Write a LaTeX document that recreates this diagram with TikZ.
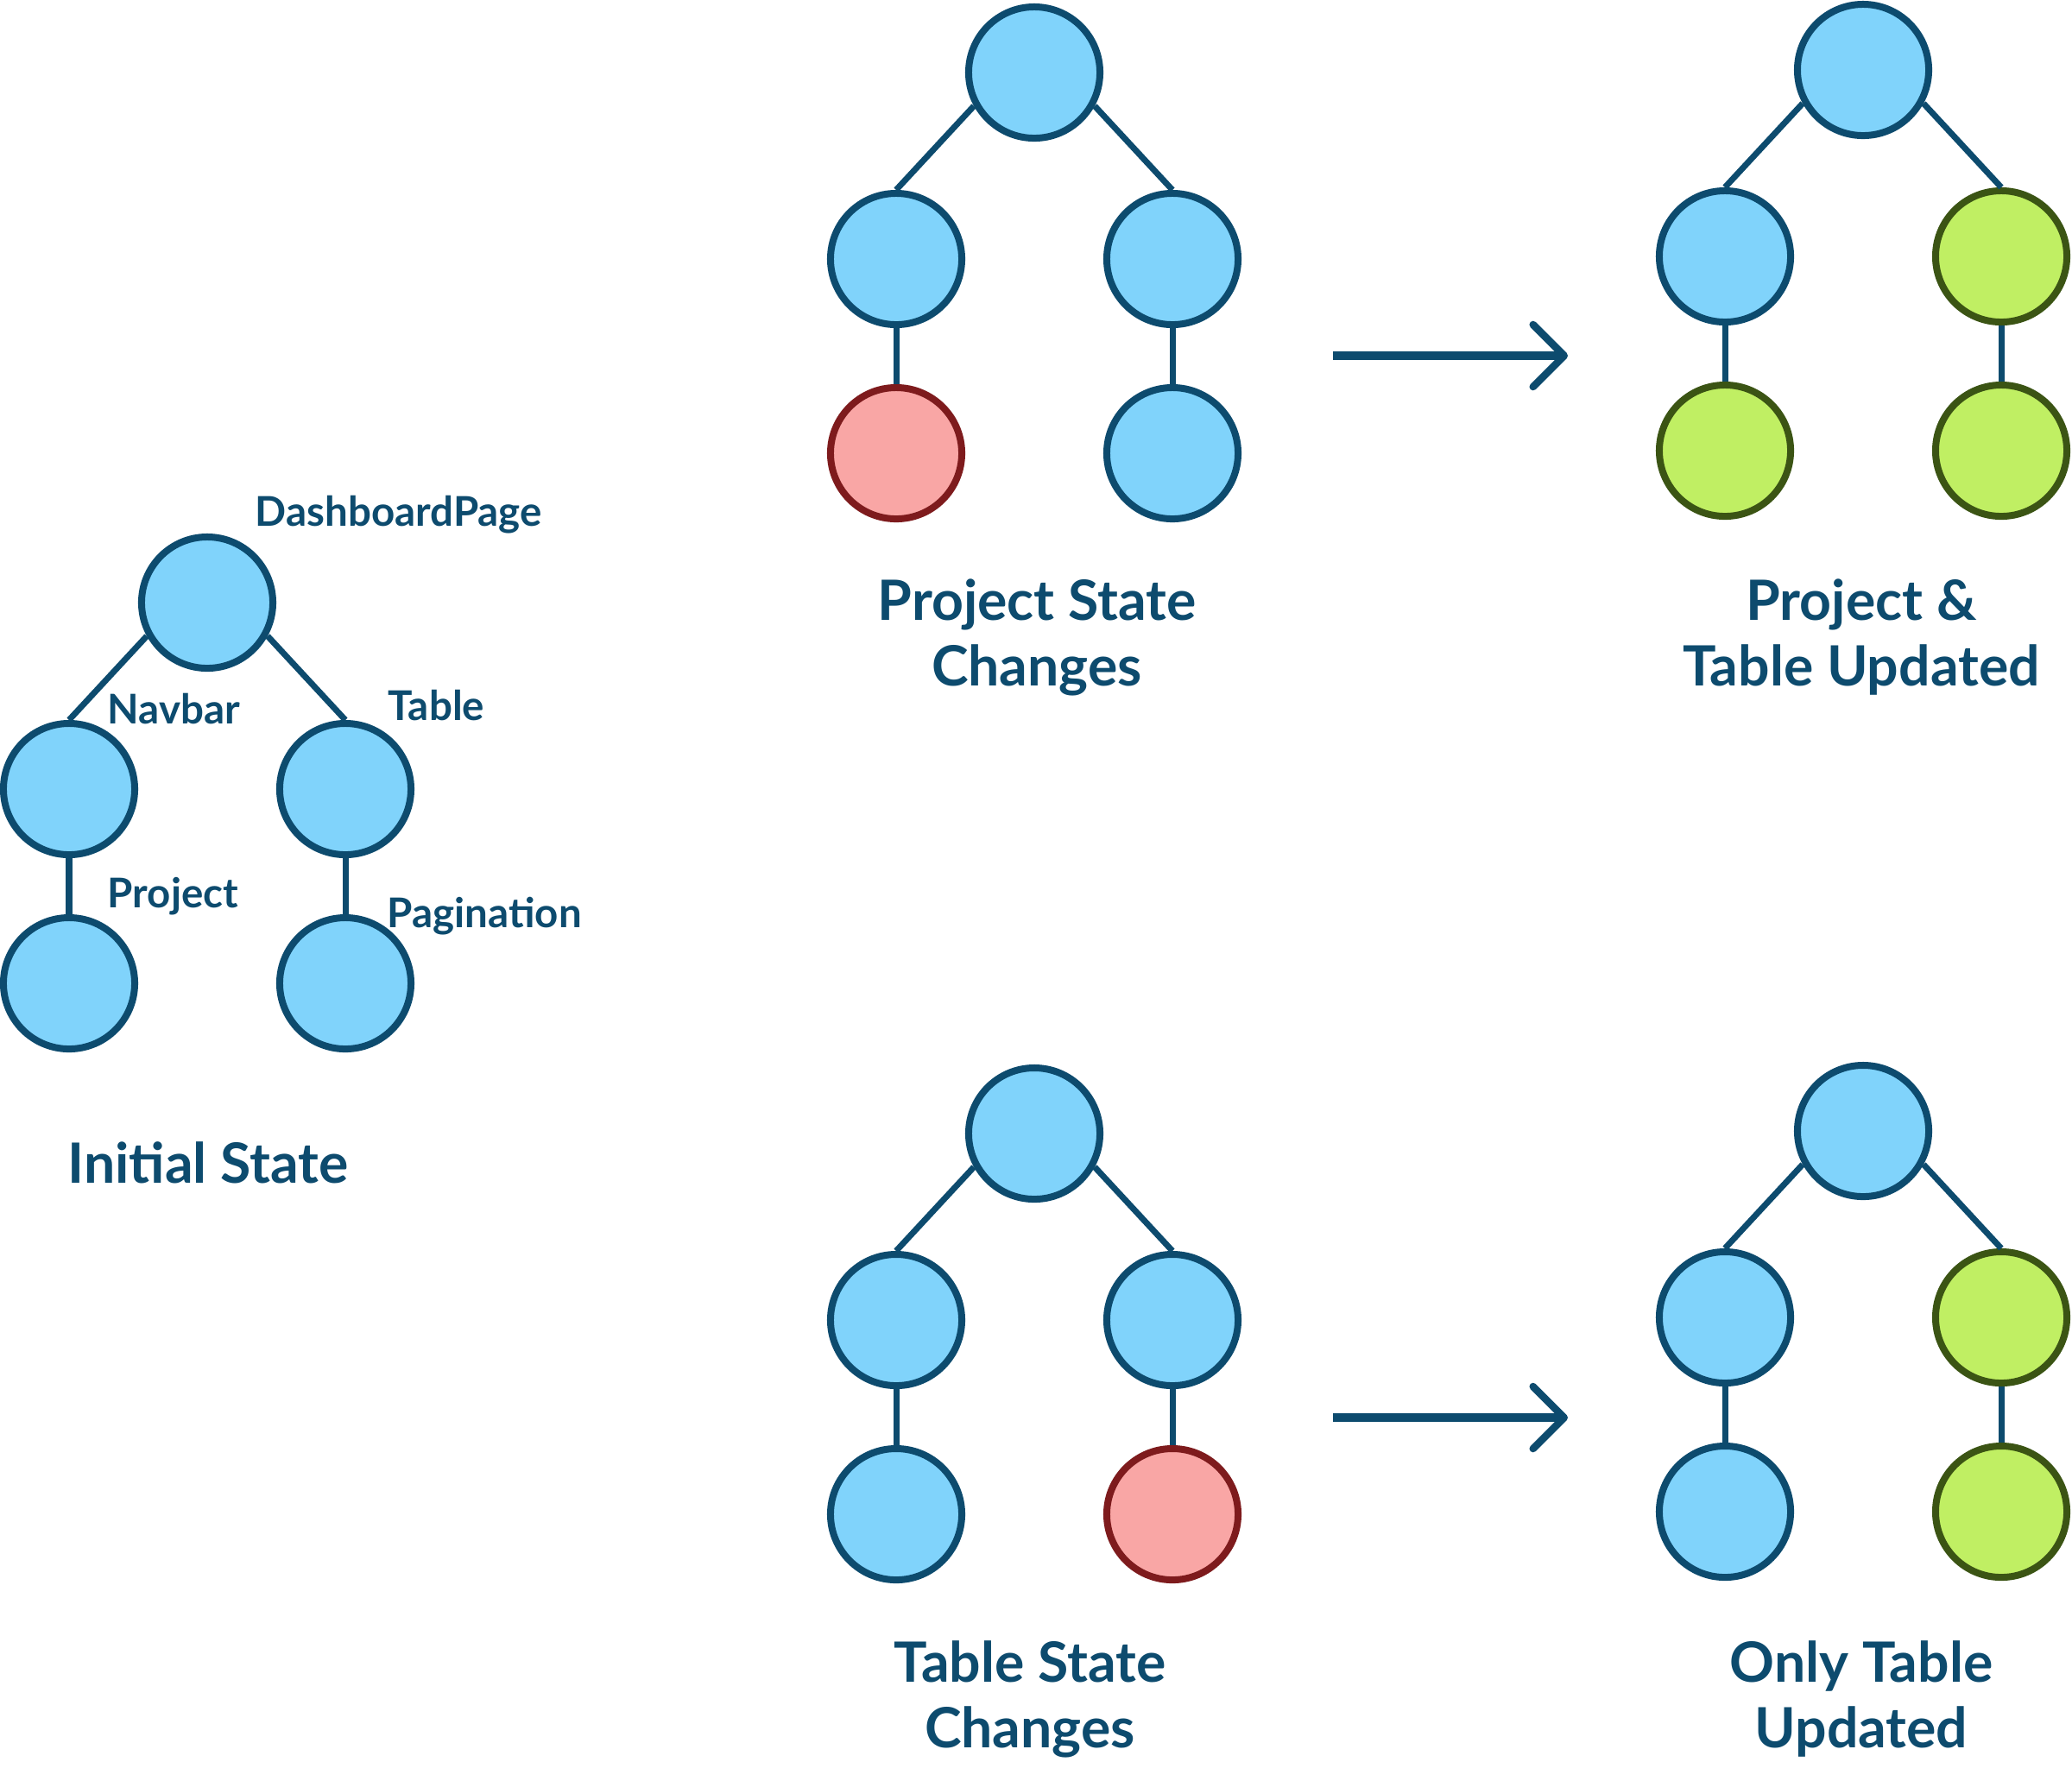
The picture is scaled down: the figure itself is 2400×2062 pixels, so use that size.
\documentclass[tikz,border=0pt]{standalone}
\usepackage{fontspec}
\setmainfont{Lato}
\usetikzlibrary{arrows.meta}
\definecolor{ink}{HTML}{0D4B6E}
\definecolor{bfill}{HTML}{80D3FB}
\definecolor{rfill}{HTML}{F9A6A5}
\definecolor{rdraw}{HTML}{7E1B1D}
\definecolor{gfill}{HTML}{C0EF63}
\definecolor{gdraw}{HTML}{3B5414}
\tikzset{
  nd/.style={circle, minimum size=1.52cm, inner sep=0pt, line width=0.08cm},
  bnode/.style={nd, fill=bfill, draw=ink},
  rnode/.style={nd, fill=rfill, draw=rdraw},
  gnode/.style={nd, fill=gfill, draw=gdraw},
  link/.style={draw=ink, line width=0.07cm},
  arr/.style={draw=ink, line width=0.1cm, -{Straight Barb[length=0.36cm,width=0.72cm,round,line width=0.085cm]}},
  lbl/.style={text=ink, font=\fontsize{13.5pt}{16pt}\selectfont\bfseries, inner sep=0pt, anchor=base west},
  ttl/.style={text=ink, font=\fontsize{18.3pt}{21.6pt}\selectfont\bfseries, inner sep=0pt, align=center, anchor=base}
}
\newcommand\mktree[7]{%
  % #1 prefix, #2 x, #3 y, #4 left child, #5 right child, #6 left gc, #7 right gc
  \node[bnode] (#1r) at (#2,#3) {};
  \node[#4] (#1l) at ({#2-160},{#3+216}) {};
  \node[#5] (#1R) at ({#2+160},{#3+216}) {};
  \node[#6] (#1ll) at ({#2-160},{#3+441}) {};
  \node[#7] (#1RR) at ({#2+160},{#3+441}) {};
  \draw[link] (#1r.209) -- (#1l.north);
  \draw[link] (#1r.331) -- (#1R.north);
  \draw[link] (#1l.south) -- (#1ll.north);
  \draw[link] (#1R.south) -- (#1RR.north);
}
\begin{document}
\begin{tikzpicture}[x=0.01cm, y=-0.01cm]
\useasboundingbox (0,0) rectangle (2400,2062);
% initial state
\mktree{i}{240}{698}{bnode}{bnode}{bnode}{bnode}
\node[lbl] (lDash) at (295,609) {DashboardPage};
\node[lbl] (lNav) at (124,838) {Navbar};
\node[lbl] (lTab) at (449,834) {Table};
\node[lbl] (lProj) at (124,1051) {Project};
\node[lbl] (lPag) at (448,1074) {Pagination};
\node[ttl] (tInit) at (241,1370) {Initial State};
% top row
\mktree{a}{1198}{84}{bnode}{bnode}{rnode}{bnode}
\mktree{b}{2158}{81}{bnode}{gnode}{gnode}{gnode}
\node[ttl] (tA) at (1201,794) {Project State\\Changes};
\node[ttl] (tB) at (2156,794) {Project \&\\Table Updated};
\coordinate (a1) at (1544,412);
\coordinate (a2) at (1816,412);
\draw[arr] (a1) -- (a2);
% bottom row
\mktree{c}{1198}{1313}{bnode}{bnode}{bnode}{rnode}
\mktree{d}{2158}{1310}{bnode}{gnode}{bnode}{gnode}
\node[ttl] (tC) at (1193,2024) {Table State\\Changes};
\node[ttl] (tD) at (2156,2024) {Only Table\\Updated};
\coordinate (b1) at (1544,1642);
\coordinate (b2) at (1816,1642);
\draw[arr] (b1) -- (b2);
\end{tikzpicture}
\end{document}
